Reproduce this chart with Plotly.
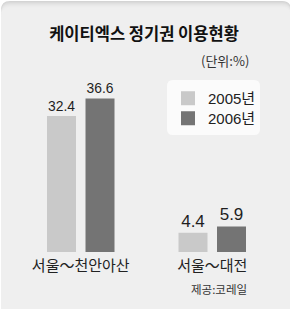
import plotly.graph_objects as go

categories = ["서울～천안아산", "서울～대전"]
series_names = ["2005년", "2006년"]
values_2005 = [32.4, 4.4]
values_2006 = [36.6, 5.9]
value_labels_2005 = ["32.4", "4.4"]
value_labels_2006 = ["36.6", "5.9"]

title_text = "케이티엑스 정기권 이용현황"
unit_text = "(단위:%)"
source_text = "제공:코레일"

FIG_W, FIG_H = 290, 309
L, R, T, B = 15, 12, 70, 57
W = FIG_W - L - R
H = FIG_H - T - B
SCALE = 4.17  # px per unit


def px(x):
    return (x - L) / W


def py(y):
    return (FIG_H - B - y) / H


NUM_FONT = "Liberation Sans Narrow, Liberation Sans, Noto Sans CJK KR, sans-serif"
KR_FONT = "Noto Sans CJK KR, sans-serif"
colors = ["#c9c9c9", "#747474"]

fig = go.Figure()
for name, vals, labs, col, leg in [
    (series_names[0], values_2005, value_labels_2005, colors[0], "legend"),
    (series_names[1], values_2006, value_labels_2006, colors[1], "legend2"),
]:
    fig.add_trace(go.Bar(
        x=categories, y=vals, name=name, text=labs, legend=leg,
        textposition="outside", cliponaxis=False,
        textfont=dict(family=NUM_FONT, size=17, color="#1e1e1e"),
        marker=dict(color=col, line=dict(color=col, width=2)),
        hoverinfo="skip",
    ))


def rounded_top(x0, y0, x1, y1, r):
    return (f"M{px(x0)},{py(y1)} L{px(x0)},{py(y0 + r)} "
            f"Q{px(x0)},{py(y0)} {px(x0 + r)},{py(y0)} "
            f"L{px(x1 - r)},{py(y0)} Q{px(x1)},{py(y0)} {px(x1)},{py(y0 + r)} "
            f"L{px(x1)},{py(y1)} Z")


def rounded_rect(x0, y0, x1, y1, r):
    return (f"M{px(x0 + r)},{py(y0)} L{px(x1 - r)},{py(y0)} "
            f"Q{px(x1)},{py(y0)} {px(x1)},{py(y0 + r)} "
            f"L{px(x1)},{py(y1 - r)} Q{px(x1)},{py(y1)} {px(x1 - r)},{py(y1)} "
            f"L{px(x0 + r)},{py(y1)} Q{px(x0)},{py(y1)} {px(x0)},{py(y1 - r)} "
            f"L{px(x0)},{py(y0 + r)} Q{px(x0)},{py(y0)} {px(x0 + r)},{py(y0)} Z")


shapes = []
grad = ["#d4d4d4", "#dadada", "#e0e0e0", "#e5e5e5", "#e9e9e9", "#ececec", "#eeeeee", "#efefef"]
for i, c in enumerate(grad):
    shapes.append(dict(type="path", xref="paper", yref="paper",
                       path=rounded_top(1, 1 + i, 291, 320, 9),
                       fillcolor=c, line=dict(width=0), layer="below"))
# legend box
shapes.append(dict(type="path", xref="paper", yref="paper",
                   path=rounded_rect(167, 80, 260, 135, 6),
                   fillcolor="#fbfbfb", line=dict(width=0), layer="below"))

annotations = [
    dict(text=unit_text, xref="paper", yref="paper", x=px(251), y=py(61),
         xanchor="right", yanchor="middle", showarrow=False,
         font=dict(family=KR_FONT, size=13, color="#333333")),
    dict(text=source_text, xref="paper", yref="paper", x=px(249), y=py(289),
         xanchor="right", yanchor="middle", showarrow=False,
         font=dict(family=KR_FONT, size=11.5, color="#333333")),
]

legend_common = dict(xanchor="left", yanchor="top", bgcolor="rgba(0,0,0,0)",
                     itemwidth=30,
                     font=dict(family=NUM_FONT, size=15, color="#222222"))

fig.update_layout(
    width=FIG_W, height=FIG_H,
    margin=dict(l=L, r=R, t=T, b=B, pad=0),
    paper_bgcolor="#ffffff", plot_bgcolor="rgba(0,0,0,0)",
    barmode="group", bargap=0.4144, bargroupgap=0.299,
    title=dict(text=f"<b>{title_text}</b>", x=144 / FIG_W, xanchor="center",
               y=1 - 34 / FIG_H, yanchor="middle", yref="container",
               font=dict(family=KR_FONT, size=16.5, color="#111111")),
    xaxis=dict(showgrid=False, zeroline=False, showline=False, ticks="",
               ticklabelstandoff=3,
               tickfont=dict(family=KR_FONT, size=15, color="#222222"),
               fixedrange=True),
    yaxis=dict(visible=False, range=[0, H / SCALE], fixedrange=True),
    legend=dict(x=px(168), y=py(82), **legend_common),
    legend2=dict(x=px(168), y=py(102), **legend_common),
    shapes=shapes, annotations=annotations,
    showlegend=True,
)

fig.write_html("out.html", config=dict(displayModeBar=False))
